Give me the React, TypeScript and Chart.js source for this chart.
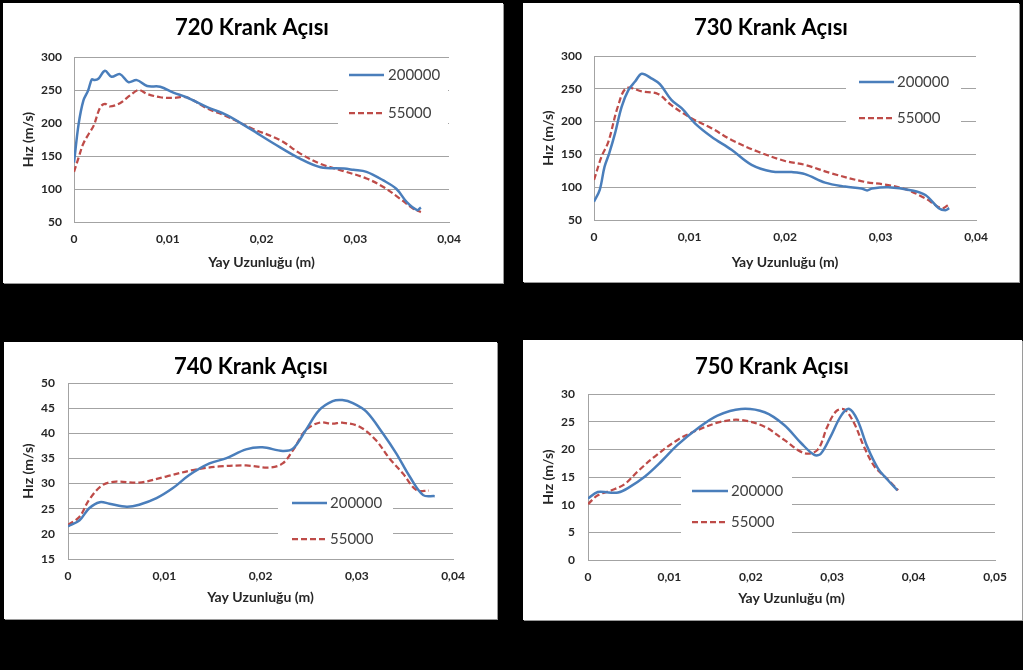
import React, { useEffect, useRef } from "react";
import { Chart, registerables } from "chart.js";

Chart.register(...registerables);

// ---------- text ----------
const SERIES_NAMES = ["200000", "55000"];
const PANEL_TITLES = ["720 Krank Açısı", "730 Krank Açısı", "740 Krank Açısı", "750 Krank Açısı"];
const X_AXIS_TITLE = "Yay Uzunluğu (m)";
const Y_AXIS_TITLE = "Hız (m/s)";

// ---------- axis ranges ----------
const X_MAX = [0.04, 0.04, 0.04, 0.05];
const Y_MIN = [50, 50, 15, 0];
const Y_MAX = [300, 300, 50, 30];
const Y_STEP = [50, 50, 5, 5];

// ---------- data : 720 ----------
const x720a = [0, 0.0005, 0.001, 0.0015, 0.0019, 0.0022, 0.0026, 0.0033, 0.004, 0.0049, 0.0058, 0.0067, 0.0078, 0.0092, 0.0106, 0.012, 0.0142, 0.0163, 0.0188, 0.0213, 0.0241, 0.0263, 0.0288, 0.0298, 0.0312, 0.033, 0.0344, 0.0355, 0.0366, 0.037];
const y720a = [140, 199, 234, 249, 266, 265, 267, 279, 270, 274, 262, 265, 256, 255, 246, 239, 224, 212, 191, 169, 146, 133, 131, 129, 126, 113, 100, 80, 68, 72];
const x720b = [0, 0.0005, 0.001, 0.0016, 0.0021, 0.0028, 0.0033, 0.0038, 0.0049, 0.006, 0.0069, 0.0078, 0.0092, 0.0106, 0.012, 0.0142, 0.0163, 0.0191, 0.022, 0.0241, 0.0263, 0.0288, 0.0312, 0.033, 0.0348, 0.0362, 0.037];
const y720b = [126, 148, 169, 184, 196, 224, 229, 225, 230, 242, 250, 244, 239, 238, 239, 222, 210, 191, 174, 154, 138, 127, 116, 103, 85, 70, 65];

// ---------- data : 730 ----------
const x730a = [0, 0.0006, 0.0011, 0.0016, 0.0022, 0.0029, 0.0036, 0.0043, 0.005, 0.006, 0.0069, 0.0081, 0.0092, 0.0106, 0.0123, 0.0144, 0.0165, 0.0186, 0.0207, 0.0221, 0.0242, 0.0263, 0.028, 0.0286, 0.0291, 0.0308, 0.0333, 0.0347, 0.0361, 0.0368, 0.0372];
const y730a = [78, 96, 131, 152, 182, 223, 248, 261, 273, 266, 257, 233, 220, 197, 177, 157, 134, 124, 123, 120, 107, 101, 98, 95, 98, 100, 95, 88, 68, 65, 68];
const x730b = [0, 0.0008, 0.0015, 0.0025, 0.0034, 0.005, 0.0067, 0.0081, 0.0102, 0.0123, 0.0144, 0.0172, 0.02, 0.0221, 0.0249, 0.0284, 0.0305, 0.0326, 0.0347, 0.0364, 0.0373];
const y730b = [111, 147, 169, 223, 251, 246, 242, 225, 205, 190, 172, 154, 140, 134, 121, 108, 104, 97, 83, 68, 75];

// ---------- data : 740 ----------
const x740a = [0, 0.0012, 0.0022, 0.0033, 0.0043, 0.0061, 0.0074, 0.0092, 0.0109, 0.0126, 0.0147, 0.0164, 0.0185, 0.0202, 0.0223, 0.0234, 0.0247, 0.0261, 0.0275, 0.0285, 0.0296, 0.031, 0.0327, 0.0341, 0.0355, 0.0369, 0.0381];
const y740a = [21.5, 22.7, 25.1, 26.3, 26.0, 25.4, 25.8, 27.1, 29.1, 31.7, 34.0, 35.0, 36.8, 37.2, 36.5, 37.0, 40.6, 44.6, 46.4, 46.6, 46.0, 44.3, 40.0, 36.0, 31.4, 27.7, 27.5];
const x740b = [0, 0.0012, 0.0022, 0.0036, 0.005, 0.0074, 0.0102, 0.013, 0.0157, 0.0185, 0.0209, 0.0223, 0.0234, 0.0247, 0.0261, 0.0275, 0.0285, 0.0303, 0.032, 0.0334, 0.0348, 0.0362, 0.0375];
const y740b = [21.8, 23.4, 26.8, 29.7, 30.4, 30.2, 31.4, 32.7, 33.4, 33.6, 33.2, 34.0, 36.7, 40.6, 42.1, 41.9, 42.1, 41.3, 38.6, 35.0, 32.0, 28.7, 28.6];

// ---------- data : 750 ----------
const x750a = [0, 0.0012, 0.0025, 0.0037, 0.0049, 0.007, 0.009, 0.011, 0.0135, 0.0159, 0.0188, 0.0217, 0.0241, 0.0262, 0.0278, 0.0286, 0.0298, 0.0311, 0.0321, 0.0331, 0.0343, 0.0356, 0.0368, 0.038];
const y750a = [11.1, 12.3, 12.2, 12.2, 13.0, 15.1, 17.8, 20.8, 23.8, 26.1, 27.3, 26.7, 24.4, 21.1, 19.0, 19.2, 22.3, 26.1, 27.3, 25.3, 20.5, 16.6, 14.5, 12.6];
const x750b = [0, 0.0012, 0.0029, 0.0045, 0.0061, 0.0082, 0.011, 0.0135, 0.0164, 0.0188, 0.0217, 0.0241, 0.0266, 0.0282, 0.0294, 0.0305, 0.0315, 0.0327, 0.0339, 0.0352, 0.0368, 0.0381];
const y750b = [10.1, 11.7, 12.6, 13.7, 16.0, 18.7, 21.7, 23.5, 25.0, 25.3, 24.1, 21.7, 19.3, 19.9, 24.1, 26.9, 27.2, 24.7, 20.5, 16.9, 14.6, 12.6];

const SERIES_X = [[x720a, x720b], [x730a, x730b], [x740a, x740b], [x750a, x750b]];
const SERIES_Y = [[y720a, y720b], [y730a, y730b], [y740a, y740b], [y750a, y750b]];

// ---------- styles / layout ----------
const FONT = "Lato, 'Open Sans', sans-serif";
const BLUE = "#4A7EBB";
const RED = "#BE4B48";
const GRID = "#a3a3a3";
const TICK_COLOR = "#262626";

type Layout = {
  box: { x: number; y: number; w: number; h: number };
  plot: { l: number; t: number; r: number; b: number };
  titleX: number; titleY: number;
  yTitleX: number; xTitleY: number;
  yTickPad: number;
  legend: { x: number; y: number; w: number; h: number; itemY: number[]; lineX0: number; lineX1: number; textX: number };
};

const LAYOUTS: Layout[] = [
  {
    box: { x: 3, y: 3, w: 500, h: 280 },
    plot: { l: 74, t: 57, r: 449, b: 222 },
    titleX: 252, titleY: 28, yTitleX: 28, xTitleY: 262, yTickPad: 12,
    legend: { x: 338, y: 62, w: 110, h: 72, itemY: [75, 113], lineX0: 349, lineX1: 384, textX: 388 },
  },
  {
    box: { x: 523, y: 3, w: 496, h: 279 },
    plot: { l: 594, t: 56, r: 976, b: 220 },
    titleX: 771, titleY: 28, yTitleX: 548, xTitleY: 262, yTickPad: 12,
    legend: { x: 846, y: 66, w: 115, h: 72, itemY: [82, 118], lineX0: 859, lineX1: 894, textX: 897 },
  },
  {
    box: { x: 4, y: 342, w: 493, h: 277 },
    plot: { l: 68, t: 383, r: 453, b: 559 },
    titleX: 251, titleY: 367, yTitleX: 28, xTitleY: 597, yTickPad: 13,
    legend: { x: 278, y: 489, w: 115, h: 64, itemY: [503, 539], lineX0: 292, lineX1: 327, textX: 330 },
  },
  {
    box: { x: 523, y: 340, w: 499, h: 280 },
    plot: { l: 588, t: 394, r: 995, b: 560 },
    titleX: 772, titleY: 367, yTitleX: 548, xTitleY: 598, yTickPad: 13,
    legend: { x: 681, y: 466, w: 111, h: 72, itemY: [491, 522], lineX0: 692, lineX1: 728, textX: 731 },
  },
];

const AXIS_TITLE_SIZE = 14;
const LH = 1.2;

function makeDecor(idx: number) {
  const L = LAYOUTS[idx];
  const ox = L.box.x;
  const oy = L.box.y;
  return {
    id: "panelDecor" + idx,
    beforeDatasetsDraw(chart: any) {
      const ctx = chart.ctx;
      const lg = L.legend;
      ctx.save();
      ctx.fillStyle = "#ffffff";
      ctx.fillRect(lg.x - ox, lg.y - oy, lg.w, lg.h);
      chart.data.datasets.forEach((ds: any, i: number) => {
        const y = lg.itemY[i] - oy;
        ctx.beginPath();
        ctx.setLineDash(ds.borderDash || []);
        ctx.strokeStyle = ds.borderColor;
        ctx.lineWidth = ds.borderWidth;
        ctx.moveTo(lg.lineX0 - ox, y);
        ctx.lineTo(lg.lineX1 - ox, y);
        ctx.stroke();
        ctx.setLineDash([]);
        ctx.fillStyle = "#404040";
        ctx.font = "15px " + FONT;
        ctx.textAlign = "left";
        ctx.textBaseline = "middle";
        ctx.fillText(ds.label, lg.textX - ox, y);
      });
      ctx.restore();
    },
    afterDraw(chart: any) {
      const ctx = chart.ctx;
      ctx.save();
      ctx.font = "bold 22px " + FONT;
      ctx.fillStyle = "#000000";
      ctx.textAlign = "center";
      ctx.textBaseline = "middle";
      ctx.fillText(PANEL_TITLES[idx], L.titleX - ox, L.titleY - oy);
      ctx.restore();
    },
  };
}

function fmtX(v: number) {
  if (Math.abs(v) < 1e-9) return "0";
  return v.toFixed(2).replace(".", ",");
}

function Panel({ idx }: { idx: number }) {
  const ref = useRef<HTMLCanvasElement | null>(null);
  const L = LAYOUTS[idx];

  useEffect(() => {
    if (!ref.current) return;
    const W = L.box.w;
    const H = L.box.h;
    const plotL = L.plot.l - L.box.x;
    const plotT = L.plot.t - L.box.y;
    const plotR = L.plot.r - L.box.x;
    const plotB = L.plot.b - L.box.y;
    const half = (AXIS_TITLE_SIZE * LH) / 2;
    const padLeft = L.yTitleX - L.box.x - half;
    const padBottom = H - (L.xTitleY - L.box.y) - half;
    const yW = plotL - padLeft;
    const xH = H - padBottom - plotB;

    const datasets = SERIES_NAMES.map((name, s) => ({
      label: name,
      data: SERIES_X[idx][s].map((x, i) => ({ x, y: SERIES_Y[idx][s][i] })),
      borderColor: s === 0 ? BLUE : RED,
      backgroundColor: s === 0 ? BLUE : RED,
      borderWidth: s === 0 ? 2.5 : 2.25,
      borderDash: s === 0 ? [] : [6, 3],
      pointRadius: 0,
      tension: 0.35,
      fill: false,
    }));

    const chart = new Chart(ref.current, {
      type: "line",
      data: { datasets },
      options: {
        animation: false,
        responsive: false,
        maintainAspectRatio: false,
        layout: { padding: { top: plotT, left: padLeft, right: W - plotR, bottom: padBottom } },
        plugins: {
          legend: { display: false },
          title: { display: false },
          tooltip: { enabled: false },
        },
        scales: {
          x: {
            type: "linear",
            min: 0,
            max: X_MAX[idx],
            afterFit: (s: any) => { s.height = xH; },
            ticks: {
              stepSize: 0.01,
              callback: (v: any) => fmtX(Number(v)),
              font: { family: FONT, size: 12, weight: "bold" },
              color: TICK_COLOR,
              padding: 10,
              maxRotation: 0,
              autoSkip: false,
            },
            grid: { display: false, drawTicks: false },
            border: { display: true, color: GRID, width: 1 },
            title: {
              display: true,
              text: X_AXIS_TITLE,
              font: { family: FONT, size: AXIS_TITLE_SIZE, weight: "bold", lineHeight: LH },
              color: TICK_COLOR,
              padding: 0,
            },
          },
          y: {
            min: Y_MIN[idx],
            max: Y_MAX[idx],
            afterFit: (s: any) => { s.width = yW; },
            ticks: {
              stepSize: Y_STEP[idx],
              font: { family: FONT, size: 12, weight: "bold" },
              color: TICK_COLOR,
              padding: L.yTickPad,
            },
            grid: { color: GRID, lineWidth: 1, drawTicks: false },
            border: { display: true, color: GRID, width: 1 },
            title: {
              display: true,
              text: Y_AXIS_TITLE,
              font: { family: FONT, size: AXIS_TITLE_SIZE, weight: "bold", lineHeight: LH },
              color: TICK_COLOR,
              padding: 0,
            },
          },
        },
      },
      plugins: [makeDecor(idx)],
    } as any);
    return () => chart.destroy();
  }, [idx]);

  return (
    <div
      style={{
        position: "absolute",
        left: L.box.x,
        top: L.box.y,
        width: L.box.w,
        height: L.box.h,
        background: "#ffffff",
        boxShadow: "1px 1px 0 #9a9a9a",
      }}
    >
      <canvas ref={ref} width={L.box.w} height={L.box.h} style={{ display: "block" }} />
    </div>
  );
}

export default function App() {
  return (
    <div
      style={{
        position: "absolute",
        left: 0,
        top: 0,
        width: 1023,
        height: 670,
        background: "#000000",
        overflow: "hidden",
      }}
    >
      {[0, 1, 2, 3].map((i) => (
        <Panel key={i} idx={i} />
      ))}
    </div>
  );
}
